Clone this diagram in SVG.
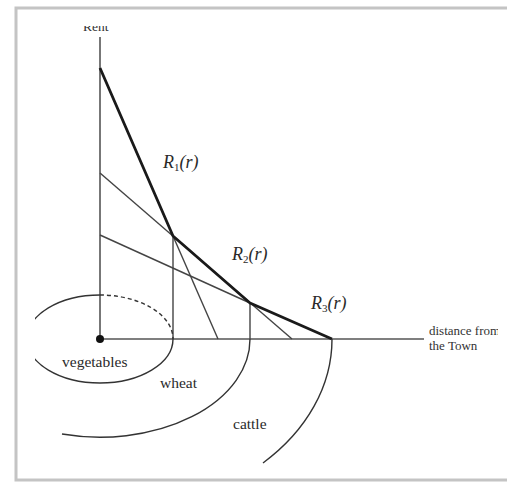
<svg xmlns="http://www.w3.org/2000/svg" width="507" height="483" viewBox="0 0 507 483">
<style>
.frame{fill:none;stroke:#c4c4c4;stroke-width:3}
.axis{fill:none;stroke:#555;stroke-width:1.6}
.thin{fill:none;stroke:#444;stroke-width:1.4}
.thick{fill:none;stroke:#1a1a1a;stroke-width:2.8;stroke-linejoin:round}
.zone{fill:none;stroke:#333;stroke-width:1.4}
.lbl{font-family:"Liberation Serif",serif;font-size:15.5px;fill:#2a2a2a}
.small{font-family:"Liberation Serif",serif;font-size:13.5px;fill:#333}
.dist{font-family:"Liberation Serif",serif;font-size:13px;fill:#333}
.R{font-family:"Liberation Serif",serif;font-size:18px;font-style:italic;fill:#2a2a2a}
.sub{font-size:11px;font-style:normal}
</style>
<defs>
<clipPath id="rentClip"><rect x="60" y="26" width="80" height="20"/></clipPath>
<clipPath id="rightClip"><rect x="0" y="0" width="498" height="483"/></clipPath>
<clipPath id="leftClip"><rect x="35" y="0" width="472" height="483"/></clipPath>
</defs>
<rect x="0" y="0" width="507" height="483" fill="#fff"/>
<rect class="frame" x="16" y="8" width="500" height="472"/>
<g id="axes">
<line class="axis" x1="100" y1="37" x2="100" y2="339"/>
<line class="axis" x1="100" y1="339" x2="424" y2="339"/>
<circle cx="100" cy="339" r="4" fill="#111"/>
</g>
<g id="rent-label" clip-path="url(#rentClip)"><text class="small" x="83" y="31">Rent</text></g>
<g id="connectors">
<polyline class="thin" points="173,236 218,339"/>
<polyline class="thin" points="100,173 292,339"/>
<polyline class="thin" points="100,235 250,303"/>
<line class="thin" x1="173" y1="236" x2="173" y2="339"/>
<line class="thin" x1="250" y1="303" x2="250" y2="339"/>
<polyline class="thick" points="100,68 173,236 250,303 332,339"/>
</g>
<g id="vegetables" clip-path="url(#leftClip)">
<path class="zone" d="M173,339 A73,44 0 0 1 27,339 A73,44 0 0 1 100,295"/>
<path class="zone" stroke-dasharray="4,3" d="M100,295 A73,44 0 0 1 173,339"/>
<text class="lbl" x="62" y="367">vegetables</text>
</g>
<g id="wheat">
<path class="zone" d="M250,339 A150,98 0 0 1 62,434"/>
<text class="lbl" x="160" y="388">wheat</text>
</g>
<g id="cattle">
<path class="zone" d="M332,339 A232,174 0 0 1 263,463"/>
<text class="lbl" x="233" y="429">cattle</text>
</g>
<g id="R1"><text class="R" x="163" y="168">R<tspan class="sub" dy="3">1</tspan><tspan dy="-3">(r)</tspan></text></g>
<g id="R2"><text class="R" x="232" y="260">R<tspan class="sub" dy="3">2</tspan><tspan dy="-3">(r)</tspan></text></g>
<g id="R3"><text class="R" x="311" y="309">R<tspan class="sub" dy="3">3</tspan><tspan dy="-3">(r)</tspan></text></g>
<g id="distance" clip-path="url(#rightClip)">
<text class="dist" x="429" y="335">distance from</text>
<text class="dist" x="429" y="350">the Town</text>
</g>
</svg>
